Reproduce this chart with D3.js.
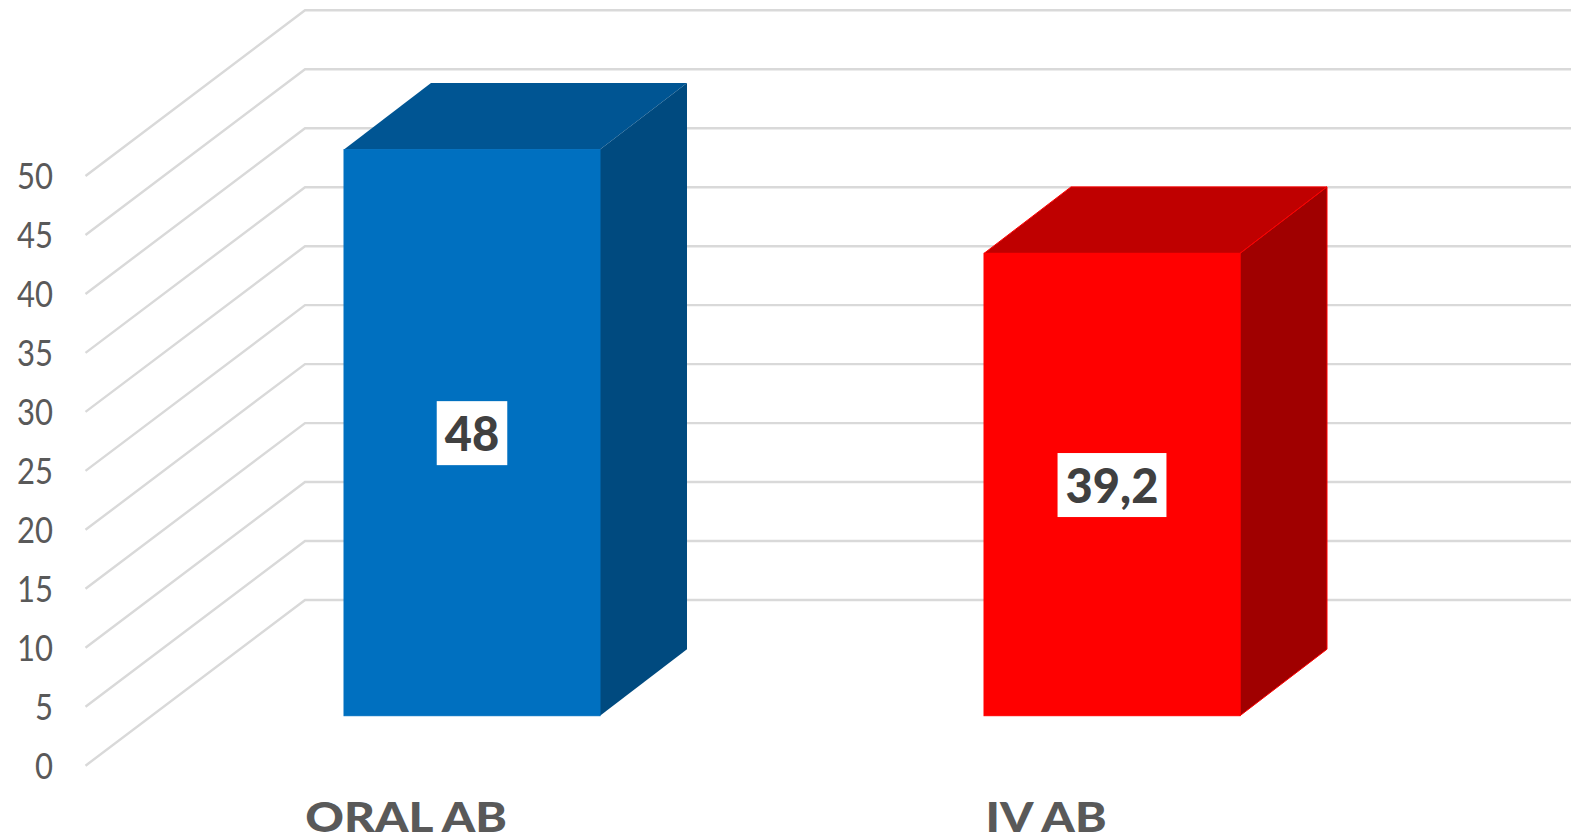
<!DOCTYPE html>
<html><head><meta charset="utf-8">
<script src="https://cdn.jsdelivr.net/npm/d3@7"></script>
<style>html,body{margin:0;padding:0;background:#fff;overflow:hidden}svg{display:block}text{font-family:Lato,sans-serif}</style>
</head><body><svg id="c" width="1571" height="837"></svg>
<script>
const categories = ["ORAL AB", "IV AB"];
const values = [48, 39.2];
const valueLabels = ["48", "39,2"];
const tickValues = [0, 5, 10, 15, 20, 25, 30, 35, 40, 45, 50];
const faceColors = ["#0070c0", "#ff0000"];
const topColors = ["#005593", "#bf0000"];
const sideColors = ["#004a7f", "#a00000"];
const edgeColors = ["#0070c0", "#ff0000"];

const svg = d3.select("#c");
const y = d3.scaleLinear().domain([0, 50]).range([765.7, 176]);
const x = d3.scaleBand().domain(categories).range([86, 1366]);
const wallDx = 219.5, wallDy = 165.7, plotLeft = 85.5, plotRight = 1571;
const barInset = 66, barInsetY = 50, barDepthX = 87, barDepthY = 66.5;
const barW = x.bandwidth() * 0.4;

svg.append("g").selectAll("path").data(tickValues).join("path")
  .attr("fill", "none").attr("stroke", "#d9d9d9").attr("stroke-width", 2.4)
  .attr("d", d => d3.line()([[plotLeft, y(d)], [plotLeft + wallDx, y(d) - wallDy], [plotRight, y(d) - wallDy]]));

const axis = svg.append("g").attr("transform", "translate(62,1)")
  .call(d3.axisLeft(y).tickValues(tickValues).tickSize(0).tickPadding(9));
axis.select(".domain").remove();
axis.selectAll("text")
  .style("font-family", "Lato,sans-serif").style("font-size", "37px").attr("fill", "#595959")
  .attr("textLength", d => String(d).length * 18).attr("lengthAdjust", "spacingAndGlyphs");

const xAxis = svg.append("g").attr("transform", "translate(0,832)")
  .call(d3.axisBottom(x).tickSize(0).tickPadding(0));
xAxis.select(".domain").remove();
xAxis.selectAll("text")
  .attr("dy", 0).attr("y", 0)
  .style("font-family", "Lato,sans-serif").style("font-size", "41px").style("font-weight", 900).attr("fill", "#595959")
  .each(function () {
    d3.select(this).attr("textLength", this.getComputedTextLength() * 1.165).attr("lengthAdjust", "spacingAndGlyphs");
  });

const rows = categories.map((c, i) => ({ c, i, v: values[i], label: valueLabels[i] }));
const g = svg.append("g").selectAll("g").data(rows).join("g");
const geo = d => {
  const l = x(d.c) + x.bandwidth() / 2 + barInset - barW / 2, r = l + barW;
  const b = y(0) - barInsetY, t = y(d.v) - barInsetY;
  return { l, r, b, t };
};
g.append("path").attr("fill", d => topColors[d.i]).attr("stroke", d => edgeColors[d.i]).attr("stroke-width", d => d.i ? 1 : 0)
  .attr("d", d => { const o = geo(d); return d3.line()([[o.l, o.t], [o.l + barDepthX, o.t - barDepthY], [o.r + barDepthX, o.t - barDepthY], [o.r, o.t]]) + "Z"; });
g.append("path").attr("fill", d => sideColors[d.i]).attr("stroke", d => edgeColors[d.i]).attr("stroke-width", d => d.i ? 1 : 0)
  .attr("d", d => { const o = geo(d); return d3.line()([[o.r, o.t], [o.r + barDepthX, o.t - barDepthY], [o.r + barDepthX, o.b - barDepthY], [o.r, o.b]]) + "Z"; });
g.append("rect").attr("fill", d => faceColors[d.i]).attr("stroke", d => edgeColors[d.i]).attr("stroke-width", 1)
  .attr("x", d => geo(d).l).attr("y", d => geo(d).t).attr("width", barW).attr("height", d => geo(d).b - geo(d).t);

const lab = g.append("g").attr("transform", d => { const o = geo(d); return `translate(${(o.l + o.r) / 2},${(o.t + o.b) / 2 + 0.5})`; });
lab.append("text").attr("text-anchor", "middle").attr("y", 18)
  .style("font-size", "47px").style("font-weight", 900).attr("fill", "#404040").text(d => d.label);
lab.insert("rect", "text").attr("fill", "#fff").attr("y", -32).attr("height", 64)
  .each(function () {
    const w = this.parentNode.querySelector("text").getComputedTextLength() + 16;
    d3.select(this).attr("x", -w / 2).attr("width", w);
  });
</script></body></html>
